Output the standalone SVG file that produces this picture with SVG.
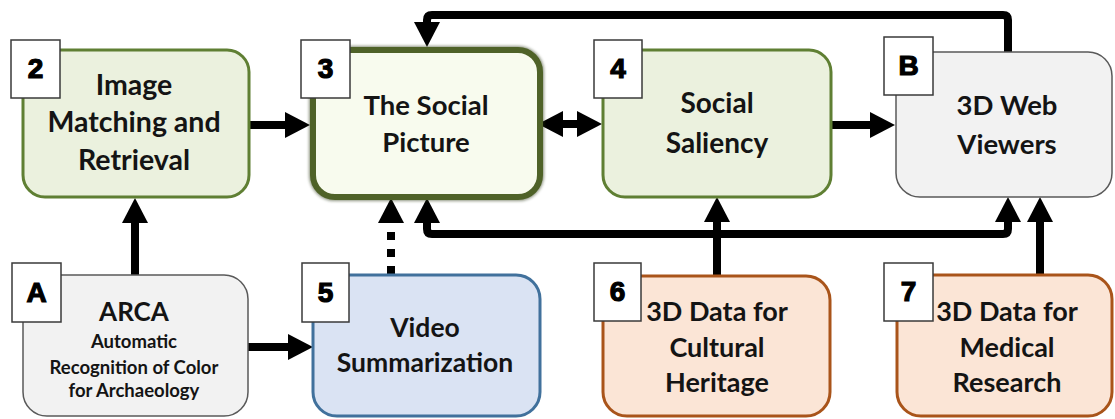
<svg xmlns="http://www.w3.org/2000/svg" width="1115" height="419" viewBox="0 0 1115 419">
  <style>
    .box { stroke-width: 3; }
    .green { fill: #ebf1de; stroke: #5f7f33; }
    .gray { fill: #f2f2f2; stroke: #595959; stroke-width: 1.5; }
    .blue { fill: #dae3f3; stroke: #41719c; }
    .orange { fill: #fbe5d6; stroke: #a9541a; }
    .tag { fill: #ffffff; stroke: #3a3a3a; stroke-width: 1.5; }
    .tagtxt { font-family: "Liberation Sans", Arial, sans-serif; font-weight: 700; font-size: 28px; fill: #000; stroke: #000; stroke-width: 1.2; text-anchor: middle; }
    .lbl { font-family: Lato, "Liberation Sans", sans-serif; font-weight: 700; font-size: 27px; fill: #141414; text-anchor: middle; }
    .sub { font-family: Lato, "Liberation Sans", sans-serif; font-weight: 700; font-size: 18.5px; fill: #141414; text-anchor: middle; }
    .wire { fill: none; stroke: #000; stroke-width: 8; }
    .dots { stroke-dasharray: 8 9; }
  </style>
  <defs>
    <marker id="head" markerUnits="userSpaceOnUse" viewBox="0 0 25 26" markerWidth="25" markerHeight="26" refX="0" refY="13" orient="auto-start-reverse">
      <path d="M0,0 L25,13 L0,26 Z" fill="#000"/>
    </marker>
    <filter id="soft" x="-10%" y="-10%" width="120%" height="120%">
      <feGaussianBlur stdDeviation="1.6"/>
    </filter>
  </defs>

  <!-- connectors -->
  <g id="connectors">
    <path class="wire" d="M135,275 V223" marker-end="url(#head)"/>
    <path class="wire" d="M249,125 H285" marker-end="url(#head)"/>
    <path class="wire" d="M248,347 H288" marker-end="url(#head)"/>
    <path class="wire dots" d="M391,274 V223" marker-end="url(#head)"/>
    <path class="wire" d="M563,124 H577" marker-start="url(#head)" marker-end="url(#head)"/>
    <path class="wire" d="M831,125 H870" marker-end="url(#head)"/>
    <path class="wire" d="M1008,52 V20 Q1008,15 1003,15 H432 Q427,15 427,20 V22" marker-end="url(#head)"/>
    <path class="wire" d="M717,276 V222" marker-end="url(#head)"/>
    <path class="wire" d="M427,223 V229 Q427,234 432,234 H1003 Q1008,234 1008,229 V222" marker-start="url(#head)" marker-end="url(#head)"/>
    <path class="wire" d="M1040,275 V222" marker-end="url(#head)"/>
  </g>

  <!-- 2: image matching -->
  <g id="node-2">
    <rect class="box green" x="23" y="50" width="226" height="147" rx="22"/>
    <rect class="tag" x="11" y="40" width="49" height="58"/>
    <text class="tagtxt" x="35.5" y="78">2</text>
    <text class="lbl" x="134" y="95" style="font-size:28.5px">Image</text>
    <text class="lbl" x="134" y="132" style="font-size:28.5px">Matching and</text>
    <text class="lbl" x="134" y="170" style="font-size:28.5px">Retrieval</text>
  </g>

  <!-- 3: the social picture -->
  <g id="node-3">
    <rect x="313" y="50" width="227" height="147" rx="22" fill="none" stroke="#2e3a18" stroke-width="8" opacity="0.55" filter="url(#soft)"/>
    <rect x="313" y="50" width="227" height="147" rx="22" fill="#f8fbee" stroke="#4f6228" stroke-width="6"/>
    <rect class="tag" x="301" y="40" width="49" height="58"/>
    <text class="tagtxt" x="325.5" y="78">3</text>
    <text class="lbl" x="426" y="115" style="font-size:27.5px">The Social</text>
    <text class="lbl" x="426" y="152" style="font-size:27.5px">Picture</text>
  </g>

  <!-- 4: social saliency -->
  <g id="node-4">
    <rect class="box green" x="603" y="50" width="228" height="147" rx="22"/>
    <rect class="tag" x="594" y="40" width="48" height="58"/>
    <text class="tagtxt" x="618" y="78">4</text>
    <text class="lbl" x="717" y="113" style="font-size:28px">Social</text>
    <text class="lbl" x="717" y="153" style="font-size:28px">Saliency</text>
  </g>

  <!-- B: 3D web viewers -->
  <g id="node-B">
    <rect class="gray" x="896" y="52" width="216" height="145" rx="24"/>
    <rect class="tag" x="884" y="37" width="49" height="58"/>
    <text class="tagtxt" x="908.5" y="75">B</text>
    <text class="lbl" x="1007" y="115" style="font-size:27.5px">3D Web</text>
    <text class="lbl" x="1007" y="154" style="font-size:27.5px">Viewers</text>
  </g>

  <!-- A: ARCA -->
  <g id="node-A">
    <rect class="gray" x="23" y="275" width="225" height="141" rx="24"/>
    <rect class="tag" x="12" y="263" width="49" height="59"/>
    <text class="tagtxt" x="36.5" y="302">A</text>
    <text class="lbl" x="134" y="321" style="font-size:26px">ARCA</text>
    <text class="sub" x="134" y="348">Automatic</text>
    <text class="sub" x="134" y="374">Recognition of Color</text>
    <text class="sub" x="134" y="397">for Archaeology</text>
  </g>

  <!-- 5: video summarization -->
  <g id="node-5">
    <rect class="box blue" x="313" y="275" width="227" height="141" rx="24"/>
    <rect class="tag" x="302" y="263" width="47" height="59"/>
    <text class="tagtxt" x="325.5" y="302">5</text>
    <text class="lbl" x="425" y="337" style="font-size:26.5px">Video</text>
    <text class="lbl" x="425" y="372" style="font-size:26.5px">Summarization</text>
  </g>

  <!-- 6: cultural heritage data -->
  <g id="node-6">
    <rect class="box orange" x="603" y="276" width="227" height="140" rx="24"/>
    <rect class="tag" x="594" y="263" width="47" height="58"/>
    <text class="tagtxt" x="617.5" y="301">6</text>
    <text class="lbl" x="717" y="321">3D Data for</text>
    <text class="lbl" x="717" y="357">Cultural</text>
    <text class="lbl" x="717" y="392">Heritage</text>
  </g>

  <!-- 7: medical research data -->
  <g id="node-7">
    <rect class="box orange" x="897" y="275" width="215" height="141" rx="24"/>
    <rect class="tag" x="884" y="263" width="49" height="58"/>
    <text class="tagtxt" x="908.5" y="301">7</text>
    <text class="lbl" x="1007" y="321">3D Data for</text>
    <text class="lbl" x="1007" y="357">Medical</text>
    <text class="lbl" x="1007" y="392">Research</text>
  </g>
</svg>
